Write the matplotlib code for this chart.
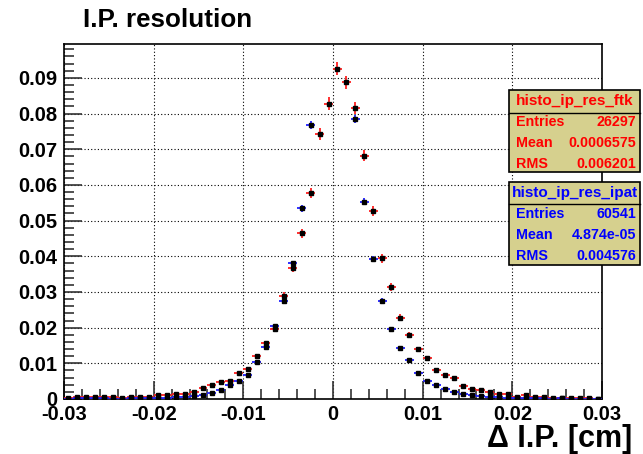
import numpy as np
import matplotlib
matplotlib.use("Agg")
import matplotlib.pyplot as plt
from matplotlib.patches import Rectangle
from matplotlib.ticker import MultipleLocator

plt.rcParams['font.family'] = ['Liberation Sans', 'DejaVu Sans']
plt.rcParams['axes.unicode_minus'] = False

# 60 bins from -0.03 to 0.03 cm
bin_lo, bin_hi, n_bins = -0.03, 0.03, 60

# normalised bin contents (ipat peak bins are off scale)
ftk_vals = [0.0002, 0.0006, 0.0006, 0.0005, 0.0006, 0.0005, 0.0004, 0.0006, 0.0007, 0.0005,
            0.0011, 0.0011, 0.0013, 0.0013, 0.0019, 0.0031, 0.0039, 0.0048, 0.0050, 0.0073,
            0.0083, 0.0120, 0.0156, 0.0195, 0.0289, 0.0368, 0.0464, 0.0577, 0.0744, 0.0828,
            0.0926, 0.0888, 0.0816, 0.0682, 0.0526, 0.0394, 0.0313, 0.0228, 0.0180, 0.0139,
            0.0114, 0.0080, 0.0066, 0.0059, 0.0037, 0.0029, 0.0025, 0.0020, 0.0015, 0.0013,
            0.0007, 0.0010, 0.0007, 0.0006, 0.0003, 0.0004, 0.0003, 0.0002, 0.0003, 0.0001]
ipat_vals = [0.0001, 0.0003, 0.0003, 0.0002, 0.0002, 0.0001, 0.0001, 0.0002, 0.0003, 0.0002,
             0.0003, 0.0004, 0.0005, 0.0006, 0.0009, 0.0010, 0.0016, 0.0026, 0.0038, 0.0050,
             0.0068, 0.0104, 0.0146, 0.0204, 0.0276, 0.0380, 0.0534, 0.0767, np.nan, np.nan,
             np.nan, np.nan, 0.0786, 0.0553, 0.0392, 0.0275, 0.0195, 0.0142, 0.0108, 0.0073,
             0.0050, 0.0038, 0.0028, 0.0019, 0.0014, 0.0010, 0.0008, 0.0006, 0.0005, 0.0004,
             0.0003, 0.0003, 0.0002, 0.0002, 0.0001, 0.0002, 0.0001, 0.0001, 0.0001, 0.0000]
ftk_entries = 26297
ipat_entries = 60541

ftk_stats = [("Entries", "26297"), ("Mean", "0.0006575"), ("RMS", "0.006201")]
ipat_stats = [("Entries", "60541"), ("Mean", "4.874e-05"), ("RMS", "0.004576")]

W, H = 643, 454
fig = plt.figure(figsize=(W / 100, H / 100), dpi=100)
fig.patch.set_facecolor('white')

def fx(px):
    return px / W

def fy(py):
    return 1 - py / H

ax = fig.add_axes([fx(64), fy(399), fx(602) - fx(64), fy(44) - fy(399)])

edges = np.linspace(bin_lo, bin_hi, n_bins + 1)
centers = 0.5 * (edges[:-1] + edges[1:])
half = 0.5 * (edges[1] - edges[0])

ftk = np.array(ftk_vals)
ipat = np.array(ipat_vals)
ftk_err = np.sqrt(ftk / ftk_entries)
ipat_err = np.sqrt(np.nan_to_num(ipat) / ipat_entries)

ax.errorbar(centers, ftk, yerr=ftk_err, xerr=half, fmt='s', ms=3.5, mfc='black', mec='black',
            ecolor='#ff2020', elinewidth=1.3, capsize=0, zorder=3)
ax.errorbar(centers, ipat, yerr=ipat_err, xerr=half, fmt='s', ms=3.5, mfc='black', mec='black',
            ecolor='#2020ff', elinewidth=1.3, capsize=0, zorder=3)

ax.set_xlim(bin_lo, bin_hi)
ax.set_ylim(0, 0.0995)
ax.xaxis.set_major_locator(MultipleLocator(0.01))
ax.xaxis.set_minor_locator(MultipleLocator(0.002))
ax.yaxis.set_major_locator(MultipleLocator(0.01))
ax.yaxis.set_minor_locator(MultipleLocator(0.002))
fmt = matplotlib.ticker.FuncFormatter(lambda v, p: "0" if abs(v) < 1e-9 else "%g" % v)
ax.xaxis.set_major_formatter(fmt)
ax.yaxis.set_major_formatter(fmt)
ax.tick_params(which='both', direction='in', top=False, right=False, width=1.2, color='#333333')
ax.tick_params(which='major', length=13, labelsize=14.5, pad=5)
ax.tick_params(axis='x', which='major', pad=4)
ax.tick_params(which='minor', length=7)
for lab in ax.get_xticklabels() + ax.get_yticklabels():
    lab.set_fontweight('bold')
ax.grid(True, which='major', color='black', linestyle=(0, (1, 2)), linewidth=0.8)
for s in ax.spines.values():
    s.set_linewidth(1.2)

fig.text(fx(83), fy(20), "I.P. resolution", fontsize=18.7, fontweight='bold', va='center', ha='left')
fig.text(fx(632), fy(439), "\u0394 I.P. [cm]", fontsize=22, fontweight='bold', va='center', ha='right')

def stats_box(top, sep, bottom, name, rows, color, row_ys):
    x0, x1 = 509, 640
    box = Rectangle((fx(x0), fy(bottom)), fx(x1) - fx(x0), fy(top) - fy(bottom),
                    transform=fig.transFigure, facecolor='#d6d08e', edgecolor='black', lw=1.2, zorder=5)
    fig.patches.append(box)
    fig.add_artist(plt.Line2D([fx(x0), fx(x1)], [fy(sep), fy(sep)], transform=fig.transFigure,
                              color='black', lw=1.0, zorder=6))
    fig.text(fx((x0 + x1) / 2), fy((top + sep) / 2), name, color=color, fontsize=11,
             fontweight='bold', ha='center', va='center', zorder=7)
    for (k, v), yy in zip(rows, row_ys):
        fig.text(fx(516), fy(yy), k, color=color, fontsize=10.3, fontweight='bold',
                 ha='left', va='center', zorder=7)
        fig.text(fx(636), fy(yy), v, color=color, fontsize=10.3, fontweight='bold',
                 ha='right', va='center', zorder=7)

stats_box(89.7, 112.7, 172.3, "histo_ip_res_ftk", ftk_stats, '#ff0000', [122, 143, 164])
stats_box(181.7, 203.5, 265, "histo_ip_res_ipat", ipat_stats, '#0000ff', [214, 235, 256])

fig.savefig("out.png", dpi=100)
